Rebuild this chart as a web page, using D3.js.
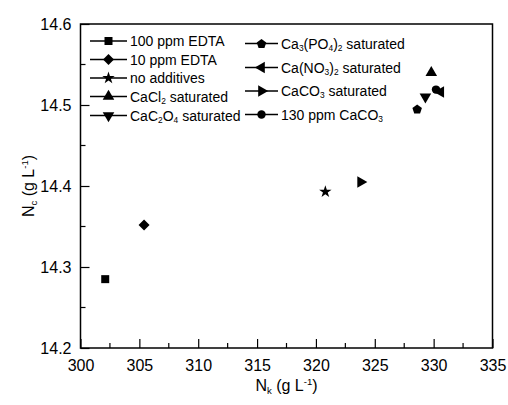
<!DOCTYPE html>
<html>
<head>
<meta charset="utf-8" />
<script src="https://d3js.org/d3.v7.min.js"></script>
<style>
  body { margin: 0; background: #fff; }
  svg text { font-family: "Liberation Sans", Arial, sans-serif; fill: #000; }
</style>
</head>
<body>
<div id="chart"></div>
<script>
// series names (parts: [text, "sub"|"sup"|null])
var seriesNames = [
  [["100 ppm EDTA"]],
  [["10 ppm EDTA"]],
  [["no additives"]],
  [["CaCl"], ["2", "sub"], [" saturated"]],
  [["CaC"], ["2", "sub"], ["O"], ["4", "sub"], [" saturated"]],
  [["Ca"], ["3", "sub"], ["(PO"], ["4", "sub"], [")"], ["2", "sub"], [" saturated"]],
  [["Ca(NO"], ["3", "sub"], [")"], ["2", "sub"], [" saturated"]],
  [["CaCO"], ["3", "sub"], [" saturated"]],
  [["130 ppm CaCO"], ["3", "sub"]]
];
var seriesShapes = ["square", "diamond", "star", "up", "down", "pentagon", "left", "right", "circle"];
var nkValues = [302.1, 305.4, 320.8, 329.8, 329.3, 328.6, 330.6, 323.8, 330.2];
var ncValues = [14.285, 14.352, 14.393, 14.540, 14.510, 14.495, 14.516, 14.405, 14.519];

var xTicks = [300, 305, 310, 315, 320, 325, 330, 335];
var yTicks = [14.2, 14.3, 14.4, 14.5, 14.6];

var W = 508, H = 405;
var margin = { top: 24, right: 15.5, bottom: 57, left: 80.5 };
var width = W - margin.left - margin.right,
    height = H - margin.top - margin.bottom;

var svg = d3.select("#chart").append("svg")
    .attr("width", W)
    .attr("height", H);

var g = svg.append("g")
    .attr("transform", "translate(" + margin.left + "," + margin.top + ")");

var x = d3.scaleLinear().domain([300, 335]).range([0, width]),
    y = d3.scaleLinear().domain([14.2, 14.6]).range([height, 0]);

// frame
g.append("rect")
    .attr("width", width).attr("height", height)
    .attr("fill", "none").attr("stroke", "#000").attr("stroke-width", 1.5);

// x axis (inward ticks)
var xMinor = d3.range(302.5, 335, 5);
var gx = g.append("g").attr("transform", "translate(0," + height + ")");
gx.call(d3.axisBottom(x).tickValues(xTicks).tickSize(-9).tickPadding(12).tickFormat(d3.format("d")));
gx.selectAll(".minor").data(xMinor).enter().append("line")
    .attr("x1", function (d) { return x(d); }).attr("x2", function (d) { return x(d); })
    .attr("y1", 0).attr("y2", -5).attr("stroke", "#000").attr("stroke-width", 1.2);

var yMinor = d3.range(14.25, 14.6, 0.1);
var gy = g.append("g");
gy.call(d3.axisLeft(y).tickValues(yTicks).tickSize(-9).tickPadding(9).tickFormat(d3.format(".1f")));
gy.selectAll(".minor").data(yMinor).enter().append("line")
    .attr("y1", function (d) { return y(d); }).attr("y2", function (d) { return y(d); })
    .attr("x1", 0).attr("x2", 5).attr("stroke", "#000").attr("stroke-width", 1.2);

[gx, gy].forEach(function (a) {
  a.select(".domain").remove();
  a.selectAll(".tick line").attr("stroke-width", 1.2);
  a.selectAll("text").attr("font-size", 16).attr("font-family", "Liberation Sans, Arial, sans-serif");
});
gx.selectAll(".tick text").attr("dy", "0.71em");

// markers
function symbolPath(shape) {
  var tri = d3.symbol().type(d3.symbolTriangle).size(58)();
  switch (shape) {
    case "square": return d3.symbol().type(d3.symbolSquare).size(64)();
    case "diamond": return "M0,-5.5L5.5,0L0,5.5L-5.5,0Z";
    case "star": return d3.symbol().type(d3.symbolStar).size(48)();
    case "circle": return d3.symbol().type(d3.symbolCircle).size(56)();
    case "pentagon":
      var pts = d3.range(5).map(function (i) {
        var a = -Math.PI / 2 + i * 2 * Math.PI / 5;
        return [5 * Math.cos(a), 5 * Math.sin(a) + 0.5];
      });
      return "M" + pts.join("L") + "Z";
    default: return tri;
  }
}
function rot(shape) {
  return shape === "down" ? 180 : shape === "left" ? -90 : shape === "right" ? 90 : 0;
}

var data = nkValues.map(function (v, i) {
  return { nk: v, nc: ncValues[i], shape: seriesShapes[i], name: seriesNames[i] };
});

g.selectAll("path.pt").data(data).enter().append("path")
    .attr("class", "pt")
    .attr("d", function (d) { return symbolPath(d.shape); })
    .attr("transform", function (d) {
      return "translate(" + x(d.nk) + "," + y(d.nc) + ") rotate(" + rot(d.shape) + ")";
    })
    .attr("fill", "#000");

// rich text helper
function richText(sel, parts, size) {
  parts.forEach(function (p) {
    var t = sel.append("tspan").text(p[0]);
    if (p[1] === "sub") t.attr("font-size", size * 0.6).attr("baseline-shift", "-30%");
    else if (p[1] === "sup") t.attr("font-size", size * 0.6).attr("baseline-shift", "60%");
    else t.attr("font-size", size);
  });
}

// legend
var legendCols = [
  { x0: 90, x1: 127, tx: 130, rows: [41, 59.5, 78, 96.5, 115.5] },
  { x0: 245, x1: 278, tx: 281, rows: [43.5, 67.5, 91, 114.5] }
];
var lg = svg.append("g");
data.forEach(function (d, i) {
  var col = i < 5 ? legendCols[0] : legendCols[1];
  var yy = col.rows[i < 5 ? i : i - 5];
  lg.append("line").attr("x1", col.x0).attr("x2", col.x1).attr("y1", yy).attr("y2", yy)
    .attr("stroke", "#000").attr("stroke-width", 1.5);
  lg.append("path").attr("d", symbolPath(d.shape))
    .attr("transform", "translate(" + (col.x0 + col.x1) / 2 + "," + yy + ") rotate(" + rot(d.shape) + ")");
  var t = lg.append("text").attr("x", col.tx).attr("y", yy + 5);
  richText(t, d.name, 14);
});

// axis titles
var xt = svg.append("text").attr("x", margin.left + width / 2).attr("y", 391).attr("text-anchor", "middle");
richText(xt, [["N"], ["k", "sub"], [" (g L"], ["-1", "sup"], [")"]], 16);

var yt = svg.append("text").attr("transform", "translate(34," + (margin.top + height / 2) + ") rotate(-90)")
    .attr("text-anchor", "middle");
richText(yt, [["N"], ["c", "sub"], [" (g L"], ["-1", "sup"], [")"]], 16);
</script>
</body>
</html>
